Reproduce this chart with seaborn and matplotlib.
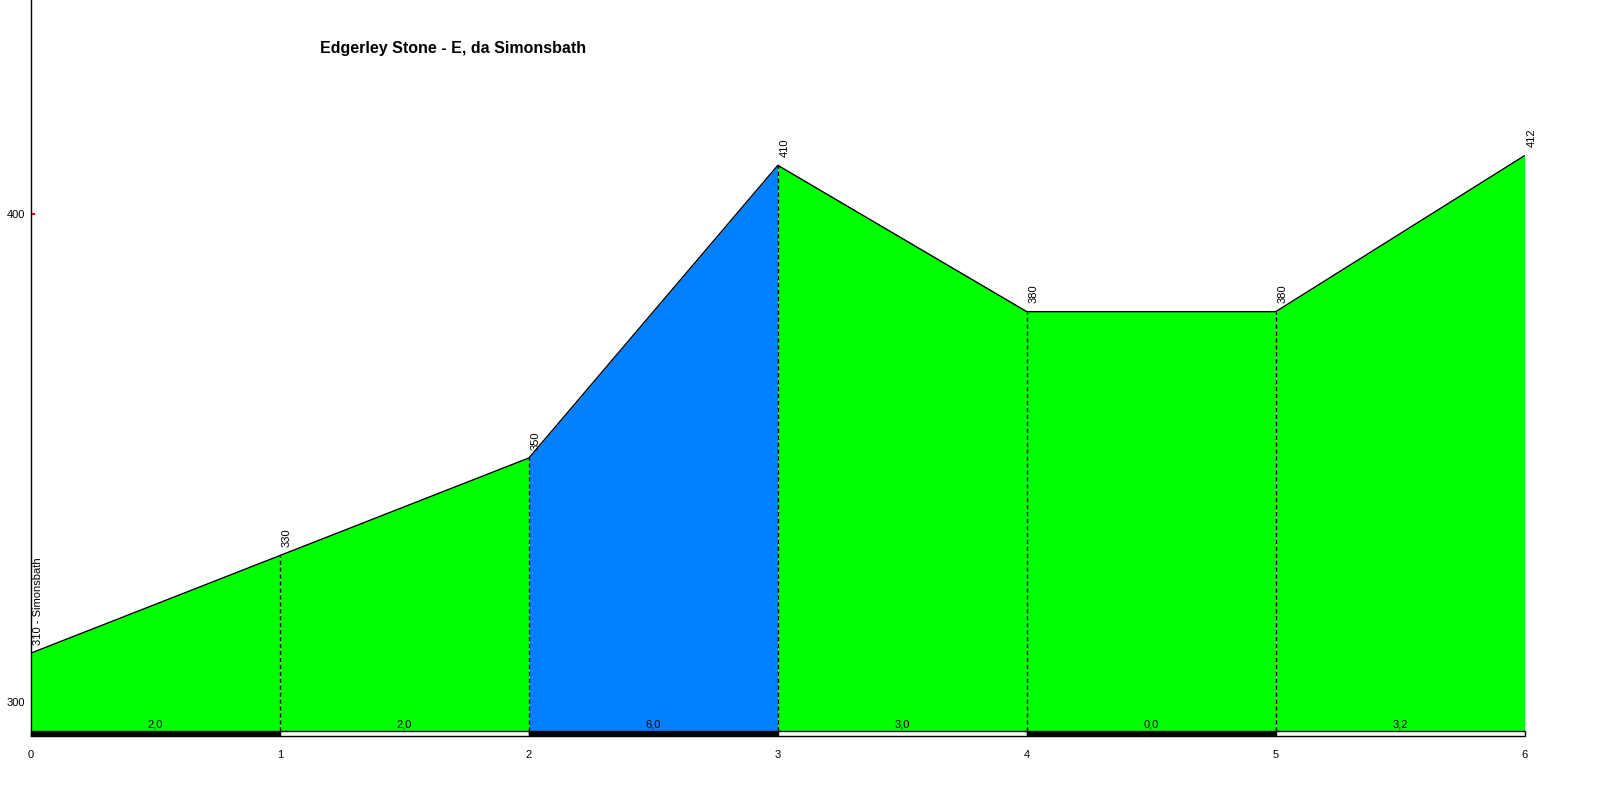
import numpy as np
import pandas as pd
import matplotlib
matplotlib.use("Agg")
import matplotlib.pyplot as plt
import seaborn as sns

# profile data
distance_km = [0, 1, 2, 3, 4, 5, 6]
elevation_m = [310, 330, 350, 410, 380, 380, 412]
point_labels = ["310 - Simonsbath", "330", "350", "410", "380", "380", "412"]
gradient_labels = ["2,0", "2,0", "6,0", "3,0", "0,0", "3,2"]
segment_colors = ["#00FF00", "#00FF00", "#0080FF", "#00FF00", "#00FF00", "#00FF00"]
strip_colors = ["black", "white", "black", "white", "black", "white"]
title = "Edgerley Stone - E, da Simonsbath"

sns.set_style("white")
plt.rcParams["font.family"] = ["Liberation Sans", "DejaVu Sans"]
plt.rcParams["text.color"] = "black"
plt.rcParams["xtick.color"] = "black"
plt.rcParams["ytick.color"] = "black"

df = pd.DataFrame({"km": distance_km, "m": elevation_m})

fig = plt.figure(figsize=(16, 8), dpi=100)
ax = fig.add_axes([0.0194, 0.08, 0.9335, 0.92])
ax.set_axisbelow(True)

ymin, base, ymax = 293.0, 294.0, 443.9

for i in range(len(distance_km) - 1):
    xs = distance_km[i:i + 2]
    ys = elevation_m[i:i + 2]
    ax.fill_between(xs, ys, base, color=segment_colors[i], lw=0, zorder=1)
    ax.add_patch(plt.Rectangle((xs[0], ymin), xs[1] - xs[0], base - ymin,
                               facecolor=strip_colors[i], edgecolor="black",
                               lw=1, zorder=3, clip_on=False))
    ax.text((xs[0] + xs[1]) / 2, base + 0.3, gradient_labels[i],
            ha="center", va="bottom", fontsize=8, zorder=4)

sns.lineplot(data=df, x="km", y="m", color="black", lw=1, ax=ax, zorder=2)

for x, y in zip(distance_km[1:-1], elevation_m[1:-1]):
    ax.plot([x, x], [base, y], color="black", lw=1, ls=(0, (3, 2)), zorder=2)

for x, y, lab in zip(distance_km, elevation_m, point_labels):
    ax.annotate(lab, (x, y), xytext=(1.5, 6), textcoords="offset points",
                rotation=90, ha="left", va="bottom", fontsize=8)

ax.set_xlim(0, 6)
ax.set_ylim(ymin, ymax)
ax.set_xticks(distance_km)
ax.set_yticks([300, 400])
ax.set_xlabel("")
ax.set_ylabel("")
ax.tick_params(axis="x", bottom=False, length=0, labelsize=8, pad=10,
               labelcolor="black")
ax.tick_params(axis="y", left=True, direction="in", length=3, width=1.5,
               color="red", labelsize=8, pad=4, labelcolor="black")
for s in ["top", "right", "bottom"]:
    ax.spines[s].set_visible(False)
ax.spines["left"].set_color("black")
ax.spines["left"].set_linewidth(1)
ax.spines["left"].set_zorder(5)

fig.text(0.283, 0.94, title, ha="center", va="center",
         fontsize=11.5, fontweight="bold", color="black")

fig.savefig("out.png", dpi=100, facecolor="white")
